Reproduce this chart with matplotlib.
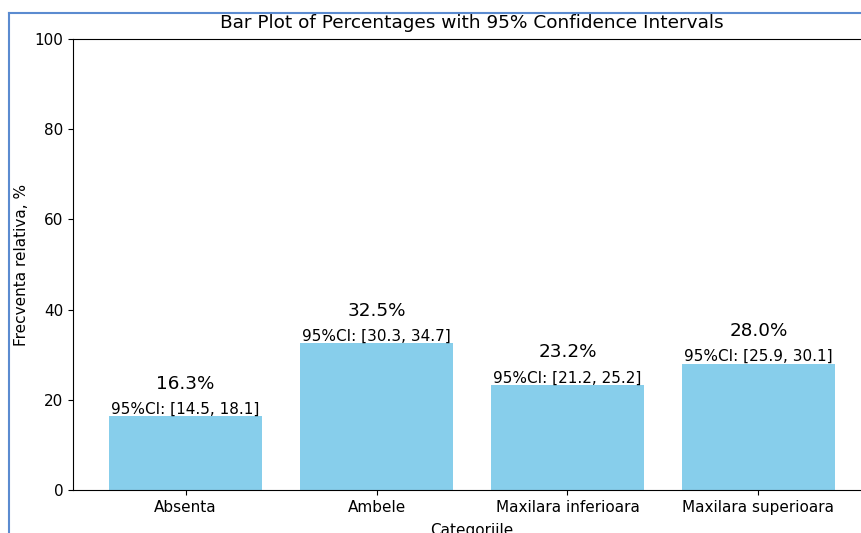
import matplotlib
matplotlib.use("Agg")
import matplotlib.pyplot as plt
from matplotlib.lines import Line2D

categories = ["Absenta", "Ambele", "Maxilara inferioara", "Maxilara superioara"]
percentages = [16.3, 32.5, 23.2, 28.0]
ci_low = [14.5, 30.3, 21.2, 25.9]
ci_high = [18.1, 34.7, 25.2, 30.1]

W, H = 861, 533
fig = plt.figure(figsize=(W / 100, H / 100), dpi=100)

# axes extends slightly past the right edge of the canvas
left, right, top, bottom = 73, 871, 39, 490
ax = fig.add_axes([left / W, 1 - bottom / H, (right - left) / W, (bottom - top) / H])

x = range(len(categories))
bars = ax.bar(x, percentages, color="skyblue", width=0.8)

for i, (p, lo, hi) in enumerate(zip(percentages, ci_low, ci_high)):
    ax.text(i, p, f"95%CI: [{lo:.1f}, {hi:.1f}]", ha="center", va="bottom", fontsize=11)
    ax.text(i, p + 5.3, f"{p:.1f}%", ha="center", va="bottom", fontsize=13.2)

ax.set_xticks(list(x))
ax.set_xticklabels(categories, fontsize=11)
ax.set_ylim(0, 100)
ax.set_yticks([0, 20, 40, 60, 80, 100])
ax.tick_params(axis="y", labelsize=11)
ax.set_title("Bar Plot of Percentages with 95% Confidence Intervals", fontsize=13.3, pad=8)
ax.set_xlabel("Categoriile", fontsize=11, labelpad=6)
ax.set_ylabel("Frecventa relativa, %", fontsize=11, labelpad=4)

# frame lines along the top and left of the canvas
border = "#5b8bd0"
fig.add_artist(Line2D([9 / W, 9 / W], [0, 1 - 13 / H], color=border, lw=1.5, transform=fig.transFigure))
fig.add_artist(Line2D([9 / W, 1], [1 - 13 / H, 1 - 13 / H], color=border, lw=1.5, transform=fig.transFigure))

fig.savefig("out.png", dpi=100)
